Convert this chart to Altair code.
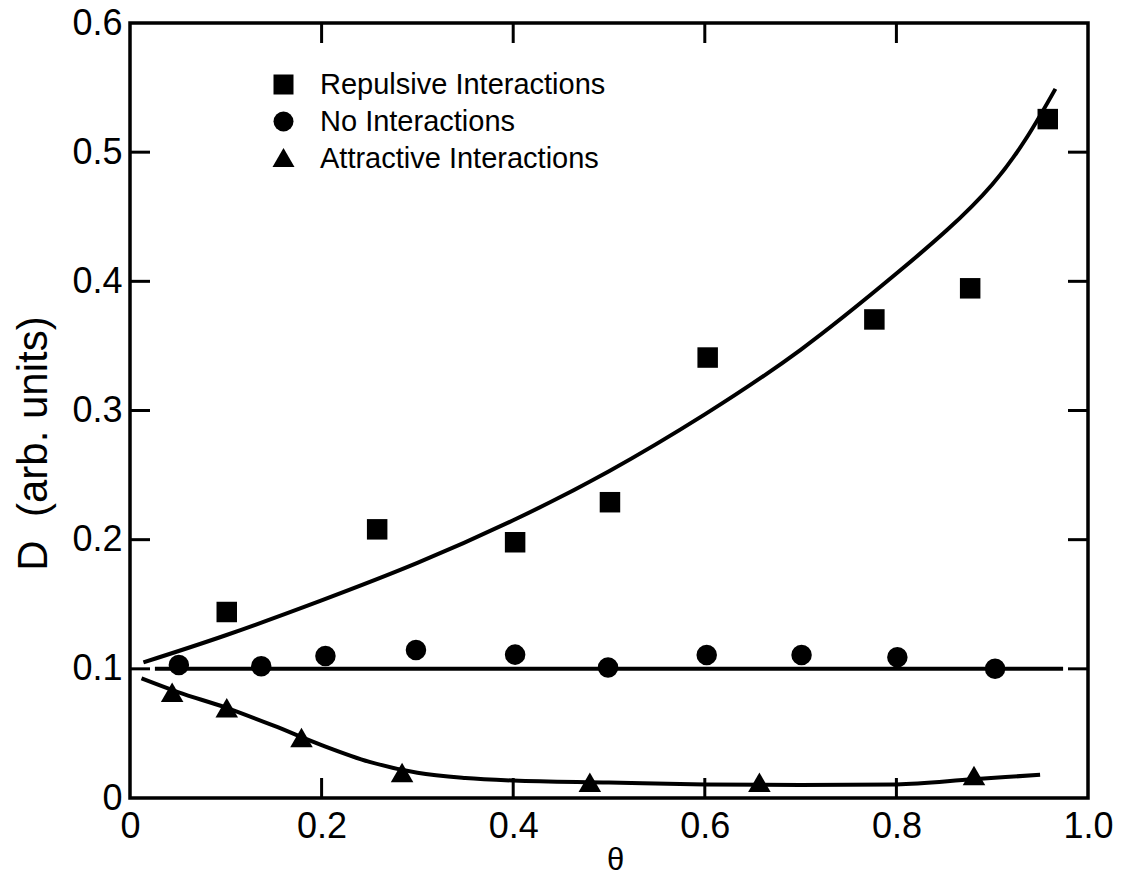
import altair as alt
import pandas as pd

# ---- data ----
rep_x = [0.101, 0.258, 0.402, 0.501, 0.603, 0.777, 0.877, 0.958]
rep_y = [0.144, 0.208, 0.198, 0.229, 0.341, 0.3705, 0.3946, 0.5256]

non_x = [0.051, 0.137, 0.204, 0.2985, 0.402, 0.499, 0.602, 0.701, 0.801, 0.903]
non_y = [0.103, 0.102, 0.110, 0.1146, 0.111, 0.101, 0.1107, 0.1107, 0.109, 0.100]

att_x = [0.044, 0.101, 0.179, 0.284, 0.480, 0.657, 0.881]
att_y = [0.081, 0.069, 0.046, 0.019, 0.0114, 0.0114, 0.0167]

rep_curve_x = [0.014, 0.10, 0.20, 0.30, 0.40, 0.50, 0.60, 0.70, 0.80, 0.90, 0.966]
rep_curve_y = [0.105, 0.126, 0.153, 0.182, 0.215, 0.253, 0.297, 0.347, 0.406, 0.475, 0.549]

non_curve_x = [0.026, 0.974]
non_curve_y = [0.100, 0.100]

att_curve_x = [0.012, 0.05, 0.10, 0.15, 0.20, 0.25, 0.30, 0.35, 0.40, 0.50, 0.60, 0.70, 0.80, 0.88, 0.95]
att_curve_y = [0.0926, 0.082, 0.070, 0.056, 0.041, 0.028, 0.0195, 0.0155, 0.0135, 0.012, 0.0105, 0.010, 0.0105, 0.0145, 0.018]

series_names = ["Repulsive Interactions", "No Interactions", "Attractive Interactions"]
series_shapes = ["square", "circle", "M-1.1,0.85L1.1,0.85L0,-1.05Z"]

x_ticks = [0, 0.2, 0.4, 0.6, 0.8, 1.0]
y_ticks = [0, 0.1, 0.2, 0.3, 0.4, 0.5, 0.6]
x_inner_ticks = [0.2, 0.4, 0.6, 0.8]
y_inner_ticks = [0.1, 0.2, 0.3, 0.4, 0.5]

# ---- tables ----
pts = pd.concat([
    pd.DataFrame({"x": rep_x, "y": rep_y, "series": series_names[0]}),
    pd.DataFrame({"x": non_x, "y": non_y, "series": series_names[1]}),
    pd.DataFrame({"x": att_x, "y": att_y, "series": series_names[2]}),
], ignore_index=True)

rep_curve = pd.DataFrame({"x": rep_curve_x, "y": rep_curve_y})
other_curves = pd.concat([
    pd.DataFrame({"x": non_curve_x, "y": non_curve_y, "curve": "non"}),
    pd.DataFrame({"x": att_curve_x, "y": att_curve_y, "curve": "att"}),
], ignore_index=True)

xt = pd.DataFrame({"t": x_inner_ticks})
yt = pd.DataFrame({"t": y_inner_ticks})

W, H = 958, 775
FONT = "Liberation Sans"
TL = 20  # inner tick length

xscale = alt.Scale(domain=[0, 1], nice=False, zero=False)
yscale = alt.Scale(domain=[0, 0.6], nice=False, zero=False)

lab = "datum.value == 0 ? '0' : format(datum.value, '.1f')"

xaxis = alt.Axis(values=x_ticks, labelExpr=lab, ticks=False, domain=False, grid=False,
                 labelFont=FONT, labelFontSize=36, labelColor="black", labelPadding=11,
                 labelFlush=False, labelOverlap=False,
                 title="θ", titleFont=FONT, titleFontSize=31, titleFontWeight="normal",
                 titleColor="black", titleX=485, titleY=71, titleBaseline="alphabetic",
                 titleAlign="center")
yaxis = alt.Axis(values=y_ticks, labelExpr=lab, ticks=False, domain=False, grid=False,
                 labelFont=FONT, labelFontSize=36, labelColor="black", labelPadding=8,
                 labelFlush=False, labelOverlap=False,
                 title="D\u00a0\u00a0(arb. units)", titleFont=FONT, titleFontSize=42,
                 titleFontWeight="normal", titleColor="black", titleAngle=270,
                 titleX=-84, titleY=420, titleBaseline="alphabetic", titleAlign="center")

rep_line = alt.Chart(rep_curve).mark_line(color="black", strokeWidth=4, interpolate="natural").encode(
    x=alt.X("x:Q", scale=xscale, axis=xaxis),
    y=alt.Y("y:Q", scale=yscale, axis=yaxis),
)

lines = alt.Chart(other_curves).mark_line(color="black", strokeWidth=4, interpolate="monotone").encode(
    x=alt.X("x:Q", scale=xscale),
    y=alt.Y("y:Q", scale=yscale),
    detail="curve:N",
)

points = alt.Chart(pts).mark_point(filled=True, color="black", size=420, opacity=1).encode(
    x=alt.X("x:Q", scale=xscale),
    y=alt.Y("y:Q", scale=yscale),
    shape=alt.Shape("series:N",
                    scale=alt.Scale(domain=series_names, range=series_shapes),
                    sort=series_names,
                    legend=alt.Legend(title=None, orient="none", legendX=139, legendY=47,
                                      labelFont=FONT, labelFontSize=29, labelColor="black",
                                      symbolSize=400, symbolFillColor="black",
                                      symbolStrokeColor="black", symbolStrokeWidth=0,
                                      symbolOpacity=1, labelOffset=22, rowPadding=7,
                                      padding=0, labelLimit=500)),
)

top_ticks = alt.Chart(xt).mark_rule(color="black", strokeWidth=3).encode(
    x=alt.X("t:Q", scale=xscale), y=alt.value(0), y2=alt.value(TL))
bot_ticks = alt.Chart(xt).mark_rule(color="black", strokeWidth=3).encode(
    x=alt.X("t:Q", scale=xscale), y=alt.value(H), y2=alt.value(H - TL))
left_ticks = alt.Chart(yt).mark_rule(color="black", strokeWidth=3).encode(
    y=alt.Y("t:Q", scale=yscale), x=alt.value(0), x2=alt.value(TL))
right_ticks = alt.Chart(yt).mark_rule(color="black", strokeWidth=3).encode(
    y=alt.Y("t:Q", scale=yscale), x=alt.value(W), x2=alt.value(W - TL))

chart = alt.layer(rep_line, lines, points, top_ticks, bot_ticks, left_ticks, right_ticks).properties(
    width=W, height=H,
    autosize=alt.AutoSizeParams(type="none"),
    padding={"left": 130, "top": 23, "right": 35, "bottom": 80},
    background="white",
).configure_view(stroke="black", strokeWidth=3.5)

chart.save("out.html", embed_options={"renderer": "svg", "actions": False})
